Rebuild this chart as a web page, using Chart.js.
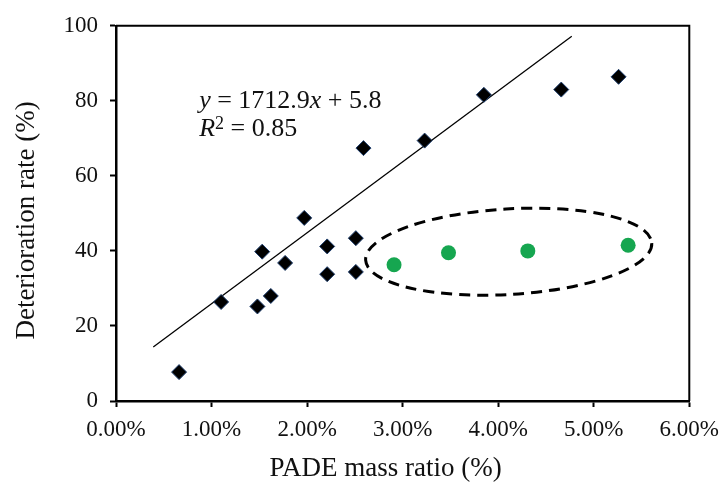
<!DOCTYPE html>
<html>
<head>
<meta charset="utf-8">
<script src="https://cdn.jsdelivr.net/npm/chart.js@4.4.1/dist/chart.umd.min.js"></script>
<style>
  html, body { margin: 0; padding: 0; background: #fff; }
  #wrap { width: 728px; height: 482px; }
</style>
</head>
<body>
<div id="wrap"><canvas id="c" width="728" height="482"></canvas></div>
<script>
// PADE mass ratio (%) vs deterioration rate (%)
const massRatio     = [0.66, 1.10, 1.48, 1.53, 1.62, 1.77, 1.97, 2.21, 2.21, 2.51, 2.51, 2.59, 3.23, 3.85, 4.66, 5.26];
const deterioration = [7.7, 26.4, 25.2, 39.8, 28.0, 36.8, 48.8, 33.8, 41.2, 43.4, 34.4, 67.4, 69.4, 81.6, 83.0, 86.4];

// samples circled separately
const circledRatio = [2.91, 3.48, 4.31, 5.36];
const circledRate  = [36.3, 39.5, 40.0, 41.5];

// linear trend line end points
const trendX = [0.39, 4.77];
const trendY = [14.4, 97.2];

const xTicks = [0, 1, 2, 3, 4, 5, 6];
const yTicks = [0, 20, 40, 60, 80, 100];

const xTitle = 'PADE mass ratio (%)';
const yTitle = 'Deterioration rate (%)';
const eqLine = ['y', ' = 1712.9', 'x', ' + 5.8'];
const r2Text = ' = 0.85';

const FONT = '"Liberation Serif", "Times New Roman", serif';
const INK = '#111';

const pts = (xs, ys) => xs.map((x, i) => ({ x, y: ys[i] }));

// box frame, dashed ellipse, axis titles and the fit equation
const extras = {
  id: 'extras',
  afterDatasetsDraw(chart) {
    const { ctx, chartArea: a, scales: { x, y } } = chart;
    ctx.save();

    // top/right frame
    ctx.strokeStyle = '#000';
    ctx.lineWidth = 2;
    ctx.beginPath();
    ctx.moveTo(a.left, a.top);
    ctx.lineTo(a.right, a.top);
    ctx.lineTo(a.right, a.bottom);
    ctx.stroke();

    // ellipse around the circled group
    const cx = x.getPixelForValue(4.11), cy = y.getPixelForValue(39.8);
    const rx = x.getPixelForValue(4.11 + 1.5) - cx;
    const ry = y.getPixelForValue(39.8) - y.getPixelForValue(39.8 + 11.4);
    ctx.setLineDash([11, 7]);
    ctx.lineWidth = 3;
    ctx.beginPath();
    ctx.ellipse(cx, cy, rx, ry, -3.4 * Math.PI / 180, 0, Math.PI * 2);
    ctx.stroke();
    ctx.setLineDash([]);

    ctx.fillStyle = INK;

    // axis titles
    ctx.font = '27px ' + FONT;
    ctx.textAlign = 'center';
    ctx.textBaseline = 'middle';
    ctx.fillText(xTitle, (a.left + a.right) / 2 - 17, 469);
    ctx.save();
    ctx.translate(27, (a.top + a.bottom) / 2 + 7);
    ctx.rotate(-Math.PI / 2);
    ctx.fillText(yTitle, 0, 0);
    ctx.restore();

    // equation text
    ctx.textAlign = 'left';
    ctx.textBaseline = 'alphabetic';
    let tx = x.getPixelForValue(0.87);
    const ty = y.getPixelForValue(78.2);
    eqLine.forEach((s, i) => {
      ctx.font = (i % 2 === 0 ? 'italic ' : '') + '26px ' + FONT;
      ctx.fillText(s, tx, ty);
      tx += ctx.measureText(s).width;
    });
    let rx2 = x.getPixelForValue(0.87);
    const ry2 = ty + 28;
    ctx.font = 'italic 26px ' + FONT;
    ctx.fillText('R', rx2, ry2);
    rx2 += ctx.measureText('R').width;
    ctx.font = '18px ' + FONT;
    ctx.fillText('2', rx2, ry2 - 7);
    rx2 += ctx.measureText('2').width;
    ctx.font = '26px ' + FONT;
    ctx.fillText(r2Text, rx2, ry2);

    ctx.restore();
  }
};

new Chart(document.getElementById('c'), {
  type: 'scatter',
  data: {
    datasets: [
      {
        data: pts(massRatio, deterioration),
        pointStyle: 'rectRot',
        pointRadius: 7.5,
        backgroundColor: '#000',
        borderColor: '#1f3f6e',
        borderWidth: 1,
        order: 0
      },
      {
        data: pts(circledRatio, circledRate),
        pointStyle: 'circle',
        pointRadius: 7.5,
        backgroundColor: '#16a650',
        borderColor: '#16a650',
        borderWidth: 0,
        order: 0
      },
      {
        type: 'line',
        data: pts(trendX, trendY),
        showLine: true,
        borderColor: '#000',
        borderWidth: 1.3,
        pointRadius: 0,
        fill: false,
        order: 2
      }
    ]
  },
  options: {
    responsive: false,
    animation: false,
    layout: { padding: { left: 0, top: 25, right: 34, bottom: 0 } },
    plugins: { legend: { display: false }, tooltip: { enabled: false } },
    scales: {
      x: {
        type: 'linear',
        min: 0, max: 6,
        afterBuildTicks: s => { s.ticks = xTicks.map(v => ({ value: v })); },
        afterFit: s => { s.height = 81; },
        grid: { drawOnChartArea: false, drawTicks: true, tickLength: 6, tickColor: '#000', tickWidth: 2 },
        border: { color: '#000', width: 2.5 },
        ticks: {
          color: INK, padding: 9,
          font: { family: FONT, size: 23 },
          callback: v => v.toFixed(2) + '%'
        }
      },
      y: {
        type: 'linear',
        min: 0, max: 100,
        afterBuildTicks: s => { s.ticks = yTicks.map(v => ({ value: v })); },
        afterFit: s => { s.width = 116; },
        grid: { drawOnChartArea: false, drawTicks: true, tickLength: 6, tickColor: '#000', tickWidth: 2 },
        border: { color: '#000', width: 2.5 },
        ticks: {
          color: INK, padding: 12,
          font: { family: FONT, size: 23 }
        }
      }
    }
  },
  plugins: [extras]
});
</script>
</body>
</html>
